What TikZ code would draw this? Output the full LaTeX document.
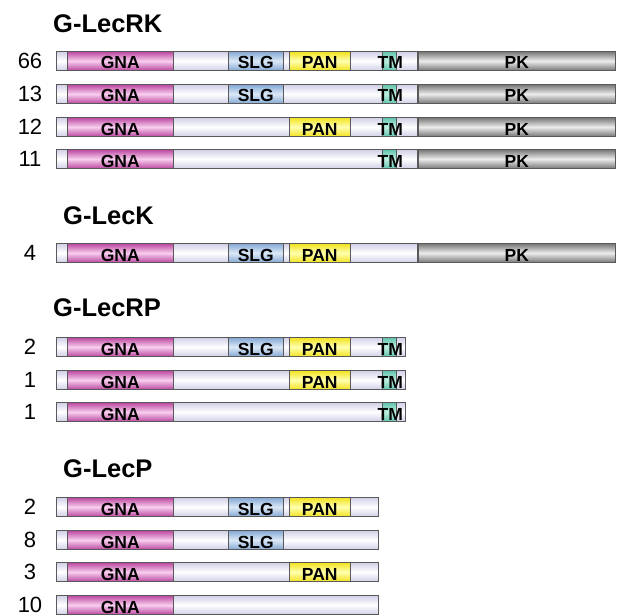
\documentclass[tikz,border=0pt]{standalone}
\usepackage{fontspec}
\setmainfont{Liberation Sans}
\usepackage{tikz}

\definecolor{gnaedge}{RGB}{188,72,160}
\definecolor{gnamid}{RGB}{248,205,238}
\definecolor{liteedge}{RGB}{208,208,232}
\definecolor{slgedge}{RGB}{132,168,212}
\definecolor{slgmid}{RGB}{220,233,247}
\definecolor{panedge}{RGB}{242,226,28}
\definecolor{panmid}{RGB}{255,255,175}
\definecolor{tmedge}{RGB}{96,196,172}
\definecolor{tmmid}{RGB}{190,240,226}
\definecolor{pkedge}{RGB}{118,118,118}
\definecolor{pkmid}{RGB}{236,236,236}

\tikzset{
  box/.style={draw=black!65, line width=0.6pt, inner sep=0pt, minimum height=19pt, anchor=west,
    font=\fontsize{17.5}{17.5}\selectfont\bfseries, text height=16pt, text depth=0pt},
  lbl/.style={inner sep=0pt, font=\fontsize{17.5}{17.5}\selectfont\bfseries, text height=16pt, text depth=0pt},
  lite/.style={box, top color=liteedge, bottom color=liteedge, middle color=white},
  gna/.style={box, minimum width=106pt, top color=gnaedge, bottom color=gnaedge, middle color=gnamid},
  slg/.style={box, minimum width=55pt, top color=slgedge, bottom color=slgedge, middle color=slgmid},
  pan/.style={box, minimum width=61pt, top color=panedge, bottom color=panedge, middle color=panmid},
  tm/.style={box, minimum width=14pt, top color=tmedge, bottom color=tmedge, middle color=tmmid},
  pk/.style={box, minimum width=197pt, top color=pkedge, bottom color=pkedge, middle color=pkmid},
  num/.style={font=\fontsize{22}{22}\selectfont},
  title/.style={anchor=west, inner sep=0pt, font=\fontsize{25.5}{25.5}\selectfont\bfseries}
}

\begin{document}
\begin{tikzpicture}[x=1pt,y=-1pt]
  \useasboundingbox (0,0) rectangle (620,615);

  % G-LecRK
  \node[title] (rk) at (53,24) {G-LecRK};
  \foreach \y/\n [count=\i] in {61/66,94/13,127/12,159/11} {
    \node[num] (n\i) at (30,\y) {\n};
    \node[lite, minimum width=361pt] (bar\i) at (56,\y) {};
    \node[gna] (gna\i) at (67,\y) {GNA};
    \node[tm] (tm\i) at (382,\y) {};
    \node[lbl] at ([xshift=1pt]tm\i.center) {TM};
    \node[pk] (pk\i) at (418,\y) {PK};
  }
  \node[slg] (slg1) at (228,61) {SLG};
  \node[pan] (pan1) at (289,61) {PAN};
  \node[slg] (slg2) at (228,94) {SLG};
  \node[pan] (pan3) at (289,127) {PAN};

  % G-LecK
  \node[title] (k) at (63,216) {G-LecK};
  \node[num] (n5) at (30,253) {4};
  \node[lite, minimum width=361pt] (bar5) at (56,253) {};
  \node[gna] (gna5) at (67,253) {GNA};
  \node[slg] (slg5) at (228,253) {SLG};
  \node[pan] (pan5) at (289,253) {PAN};
  \node[pk] (pk5) at (418,253) {PK};

  % G-LecRP
  \node[title] (rp) at (53,308) {G-LecRP};
  \foreach \y/\n [count=\i from 6] in {347/2,380/1,412/1} {
    \node[num] (n\i) at (30,\y) {\n};
    \node[lite, minimum width=349pt] (bar\i) at (56,\y) {};
    \node[gna] (gna\i) at (67,\y) {GNA};
    \node[tm] (tm\i) at (382,\y) {};
    \node[lbl] at ([xshift=1pt]tm\i.center) {TM};
  }
  \node[slg] (slg6) at (228,347) {SLG};
  \node[pan] (pan6) at (289,347) {PAN};
  \node[pan] (pan7) at (289,380) {PAN};

  % G-LecP
  \node[title] (p) at (63,469) {G-LecP};
  \foreach \y/\n [count=\i from 9] in {507/2,540/8,572/3,605/10} {
    \node[num] (n\i) at (30,\y) {\n};
    \node[lite, minimum width=322pt] (bar\i) at (56,\y) {};
    \node[gna] (gna\i) at (67,\y) {GNA};
  }
  \node[slg] (slg9) at (228,507) {SLG};
  \node[pan] (pan9) at (289,507) {PAN};
  \node[slg] (slg10) at (228,540) {SLG};
  \node[pan] (pan11) at (289,572) {PAN};
\end{tikzpicture}
\end{document}
